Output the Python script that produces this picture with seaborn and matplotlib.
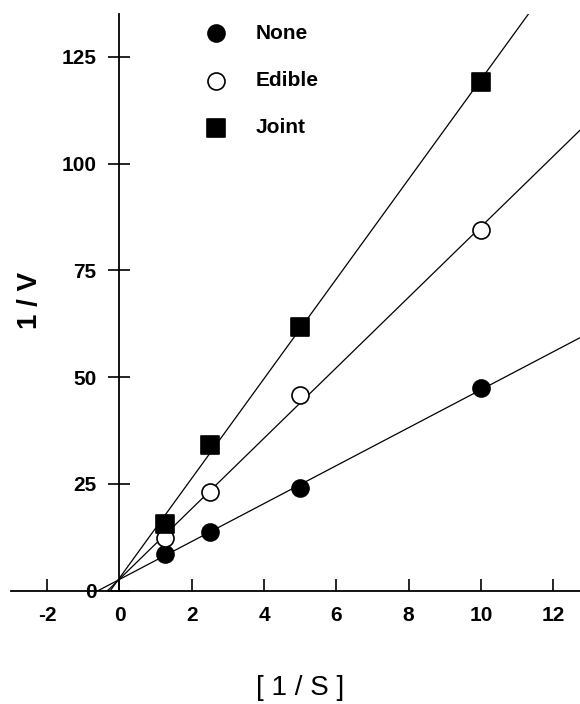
import pandas as pd
import matplotlib
matplotlib.use("Agg")
import matplotlib.pyplot as plt
import seaborn as sns

# Lineweaver-Burk data (1/S vs 1/V)
inv_s = [1.25, 2.5, 5, 10]
none_inv_v = [8.6, 13.8, 24.0, 47.4]
edible_inv_v = [12.3, 23.0, 45.7, 84.5]
joint_inv_v = [15.6, 34.1, 61.8, 119.2]
series_names = ["None", "Edible", "Joint"]
x_ticks = [-2, 0, 2, 4, 6, 8, 10, 12]
y_ticks = [0, 25, 50, 75, 100, 125]

sns.set_theme(style="ticks")
plt.rcParams["font.family"] = ["Liberation Sans", "DejaVu Sans"]
plt.rcParams["axes.unicode_minus"] = False
plt.rcParams["text.color"] = "black"

# Long-form dataframe
df = pd.DataFrame({
    "inv_s": inv_s * 3,
    "inv_v": none_inv_v + edible_inv_v + joint_inv_v,
    "series": [n for n in series_names for _ in inv_s],
})

fig = plt.figure(figsize=(5.8, 7.04), dpi=100)
ax = fig.add_axes([0.019, 0.161, 0.981, 0.819])
ax.set_xlim(-3, 12.74)
ax.set_ylim(0, 135)

# marker style per series
markers = {"None": "o", "Edible": "o", "Joint": "s"}
faces = {"None": "black", "Edible": "white", "Joint": "black"}

for name in series_names:
    sub = df[df["series"] == name]
    sns.regplot(data=sub, x="inv_s", y="inv_v", ax=ax, ci=None, truncate=False,
                marker=markers[name], label=name, color="black",
                scatter_kws=dict(s=150, facecolors=faces[name], edgecolors="black",
                                 linewidths=1.2, alpha=1, zorder=3),
                line_kws=dict(color="black", lw=0.9, zorder=2))

ax.set_xlim(-3, 12.74)
ax.set_ylim(0, 135)

# Axes crossing at the origin
ax.spines["left"].set_position(("data", 0))
ax.spines["top"].set_visible(False)
ax.spines["right"].set_visible(False)
for sp in ["left", "bottom"]:
    ax.spines[sp].set_color("black")
    ax.spines[sp].set_linewidth(1.3)

ax.set_xticks(x_ticks)
ax.set_yticks(y_ticks)
ax.tick_params(axis="x", direction="in", length=9, width=1.2, pad=11,
               labelsize=15, color="black", labelcolor="black")
ax.tick_params(axis="y", direction="inout", length=16, width=1.2, pad=8.5,
               labelsize=15, color="black", labelcolor="black")
for lbl in ax.get_xticklabels() + ax.get_yticklabels():
    lbl.set_fontweight("bold")

ax.set_xlabel("[ 1 / S ]", fontsize=20, color="black", va="center")
ax.xaxis.set_label_coords(0.508, -0.169)
ax.set_ylabel("1 / V", fontsize=20, fontweight="bold", color="black", va="center")
ax.yaxis.set_label_coords(0.033, 0.504)

leg = ax.legend(loc="upper left", bbox_to_anchor=(0.336, 0.966), bbox_transform=fig.transFigure,
                frameon=False, borderpad=0, borderaxespad=0, handletextpad=0.9,
                labelspacing=1.35, prop=dict(size=15, weight="bold"))
for t in leg.get_texts():
    t.set_color("black")

fig.savefig("out.png", dpi=100)
